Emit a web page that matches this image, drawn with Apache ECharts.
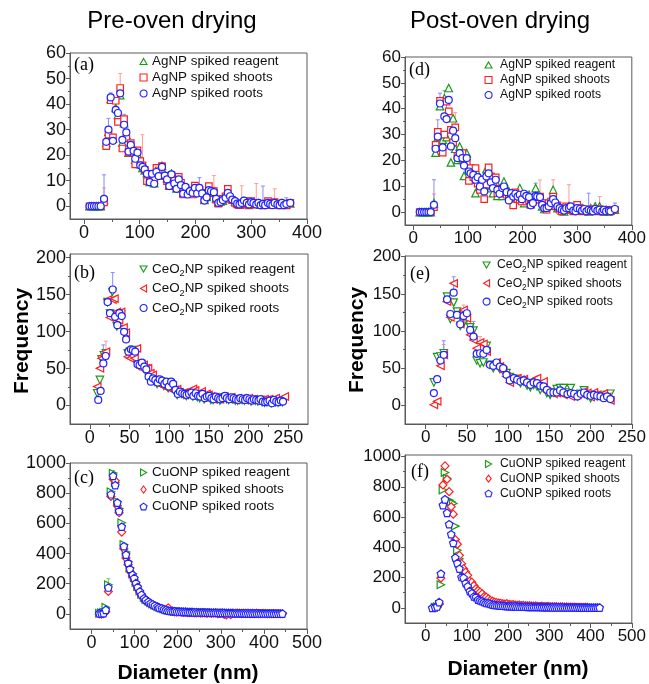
<!DOCTYPE html>
<html><head><meta charset="utf-8">
<script src="https://cdn.jsdelivr.net/npm/echarts@6/dist/echarts.min.js"></script>
<style>html,body{margin:0;padding:0;background:#fff}#c{width:649px;height:684px}</style>
</head><body><div id="c"></div>
<script>
// ---------------- DATA ----------------
// (a) AgNP pre-oven
const xA = [10,14,18,22,26,30,36,40,44,48, 52,57,61,65,69,72,76,80,84,89, 92,96,101,105,109,113,118,122,126,130, 134,140,145,149,153,157,162,166,170,174, 178,182,186,190,195,199,203,207,212,216, 220,224,228,233,237,241,245,249,254,258, 262,266,271,275,279,283,287,292,296,300, 304,309,313,317,321,325,330,334,338,342, 347,351,355,359,363,370];
const gA = [0,0,0,0,0,0,2.5,24.8,29.2,42, 26.5,38.5,35.8,43.5,25,32.5,28,21,23.5,21.5, 18.2,20.6,16.5,15,14,13,9.5,12.2,9,13.8, 12.2,15.8,12.5,11,8.2,12.8,9.3,7,10.8,8.6, 5.2,7.3,4.9,6.1,5,7,5.3,6.9,5.4,2.5, 3.7,6,6.1,5.3,3.1,1.5,1.9,2.2,3.6,5, 4.1,2.8,1.8,1.2,0.6,1.1,2,1.5,0.5,1.4, 1.1,0.9,1.1,0.6,0.7,0.6,1.1,1.1,0.6,1.1, 0.9,0.6,1.1,0.6,0.7,1.1];
const rA = [0,0,0,0,0,0,1.5,23.5,28,41.5, 27,41.3,33,46.3,22.6,34.1,26.6,21,24.7,21, 16.4,21.9,17.7,16,14.2,9.8,9.8,12.7,10.5,15, 14,15.7,11.8,9.8,7.9,12.2,10.1,7.2,11.5,9.2, 4.6,7.2,5.2,5.9,4.6,8.1,5.9,6.3,5.2,2.6, 3.9,7.9,5.9,5.9,2.6,1,2.1,2.9,3.9,6.8, 2.9,2.4,1.3,0.7,0.4,0.7,1.3,2,0.4,2, 0.7,1,0.9,0.7,0.3,0.7,2,0.4,1,1.6, 0.7,0.3,0.9,0.4,0.3,1.3];
const bA = [0,0,0,0,0,0,2.9,25.2,30,42.6, 25.6,37.7,36.5,44.2,26,31.9,28.9,21.4,24,21.7, 18.6,21,16,15.4,14.4,12.7,9.4,12.7,8.8,13.4, 11.8,15.4,12,10.5,7.9,12.5,8.9,6.8,10.5,8.3, 4.9,7.6,4.6,5.9,5.2,7.2,5,7.2,5,2.2, 3.5,6.3,5.9,5.5,2.9,1.3,1.7,2.4,3.3,5.2, 3.9,2.6,2,1,0.7,1.3,2.2,1.3,0.7,1.6, 1.3,0.7,1.3,0.4,0.9,0.4,1.3,0.9,0.4,1.3, 0.7,0.4,1.3,0.4,0.9,1.3];
const errAb = [[36,2.9,12.3],[44,30,34.4],[48,42.6,44.4],[72,31.9,36],[207,7.2,11.2],[321,0.9,7.9],[363,0.9,3.3]];
const errAr = [[36,1.5,7.2],[65,46.3,52],[105,16,28],[233,5.9,12],[283,0.7,8],[309,1,8.9],[342,1.6,6.8]];

// (d) AgNP post-oven
const xD = [12,16,20,24,28,32, 38,41,45,49,54,57,61,65,69,73, 77,81,85,90,93,98,102,105,110,114, 118,122,126,130,134,138,142,146,151,154, 158,163,166,171,175,179,183,187,191,195, 199,203,207,212,215,219,224,227,232,236, 240,244,248,252,256,260,264,268,272,276, 280,285,288,293,297,300,305,309,313,317, 321,325,329,333,337,341,346,349,353,358, 361,369];
const gD = [0,0,0,0,0,0, 3.5,23,29,41,28,44,29,48,19.2,36.3, 24.5,20.2,25.4,20.2,14,22.8,17.6,12.5,15.7,7.3, 15,11.8,12.5,9.9,16.6,13.1,9.3,7.3,11.8,6.3, 8.6,6.3,11.8,9.3,8,6.3,5,5.4,7.3,9.3, 6,3.5,5,6.7,3.2,5,9.3,6.3,6,2.2, 1.2,2.2,2.8,2.8,8.6,4.8,1.5,1.8,0.6,0.3, 0.9,2.2,1.5,0.9,0.6,1.2,0.9,1.5,0.9,0.6, 0.3,1.5,0.9,2.2,0.6,2.2,0.6,0.3,0.9,0.3, 0.6,0.9];
const rD = [0,0,0,0,0,0, 1.9,26,31,43,23,30,42.7,39,31.8,27, 32.8,21.8,21.8,22.8,20.2,19,12.1,17,13.5,17, 11,8.6,11.5,5,10.6,17.3,13.8,10.6,13.4,7.3, 9,7.1,8.6,6.7,5.4,6,2.6,7.6,5,4.8, 4.1,6,4.1,4.5,2.8,4.1,4.8,5.8,6,3.5, 2.2,0.9,3.5,4.1,6,2.2,2.6,0.9,0.3,1.5, 2.2,0.9,1.2,0.3,0.9,2.8,1.5,0.3,0.6,0.9, 0.3,1.2,0.6,0.9,0.3,1.2,0.6,0.3,0.9,0.3, 0.6,0.9];
const bD = [0,0,0,0,0,0, 2.8,24.5,29.2,42,25,37,36,43.4,25.4,31.5, 28.6,20.9,22.8,20.9,18,20.9,15.7,15,14.4,12.5, 13.5,9.9,12.5,8,13.8,15,11.5,9.3,12.5,8.6, 7.1,9.3,9.9,7.7,4.5,7.3,6,7.1,6,6.7, 5,7.1,6.3,5.8,2.6,3.5,6.3,6,5.8,2.8, 1.5,1.5,2.2,3.5,5,3.7,2.2,1.5,0.9,0.6, 1.5,1.5,2.2,0.6,0.3,1.5,1.2,0.6,1.2,0.3, 0.9,0.6,0.3,1.2,0.6,0.9,0.3,0.9,0.3,0.6, 0.3,1.2];
const errDb = [[38,2.8,12.5],[45,29.2,35.7],[49,42,46],[61,36,44],[224,6.3,11.2],[321,0.9,7.3],[369,1.2,3.5]];
const errDr = [[38,1.9,7],[77,32.8,38.5],[93,20.2,24],[232,6,12.4],[256,6,12.5],[285,0.9,10.6],[341,1.2,6]];
const errDg = [[57,44,47]];

// (b) CeO2NP pre-oven
const xB1 = [9.3,12.7,14.8,17.8,20.3,22.4,25.4,28.4,31,34, 36.8,39.4,42.4,45.3,47.9,50.8,53.8,56.3,59.3,62.3, 64.8,67.8,70.7,73.3,76.2,79.2,81.7,84.7,87.7,90.2, 93.2,96.1,98.7,101.7,104.6,107.2,110,113,115.6,118.6, 121.6,124,127,130,132.6,135.5,138.5,141,144,147, 149.5,152.5,155.4,158,161,164,166.5,169.4,172.4,175, 178,180.9,183.4,186.4,189.3,191.9,194.8,197.8,200.3,203.3, 206.3,208.8,211.8,214.7,217.3,220.2,223.2,225.7,228.7,231.7, 234.2,237.2,240.1,242.7,245.7];
const gB = [16.6,34.6,62.4,68,70.5,140,124.5,153.6,122,107, 123.5,123.5,103,94,70.5,72.8,70.5,75,56,53.5, 56,50.3,48,40,34.6,35.5,32.3,29.2,32.3,30.1, 26.5,31,23.4,30.1,26.5,18.9,14.4,17.5,15.7,14.4, 13,14.4,15.7,12.1,14.4,11.2,9.9,13,8.5,11.2, 12.1,7.6,7.6,9.9,8.5,6.7,8.5,11.2,8.5,7.6, 9.9,8.5,6.7,6.7,8.5,7.6,6.7,8.5,7.6,5.4, 7.6,6.7,5.4,7.6,4.5,4,4.5,5.4,3.1,6.7, 4.5,4,5.4,4.5,null];
const rB = [25.6,50.3,63.8,68,72.8,143,119,143.3,144.6,126.7, 115.5,126.7,105.6,98.4,66,63.8,67,63.8,77.3,57, 50.3,54.8,50.3,50.3,43.6,41.3,34.6,30.1,32.3,27.9, 25.6,26.5,23.4,25.6,22,21.1,22,17.5,14.4,17.5, 15.7,18.9,15.7,22.5,20.2,15.7,13,18.9,12.1,15.7, 14.4,12.1,8.5,11.2,9.9,8.5,11.2,12.1,9.9,8.5, 11.2,8.5,7.6,9.9,8.5,9.9,7.6,8.5,9.9,7.6, 8.5,6.7,8.5,6.7,7.6,8.5,7.6,8.5,6.7,8.5, 9.9,6.7,8.5,9.9,12.1];
const xB2 = [10.6,13.6,17,20,22.4,25.4,28.8,31.8,34.7,37.3, 40.2,43.2,45.7,48.7,51.7,54.2,57.2,60.1,62.7,65.6, 68.6,71.2,74.1,77,79.6,82.6,85.5,88,91,94, 96.6,99.5,102.5,105,108,111,113.5,116.5,119.4,122, 125,128,130.5,133.4,136.4,139,142,145,147.4,150.4, 153.3,156,158.8,161.8,164.3,167.3,170.3,172.8,175.8,178.7, 181.3,184.2,187.2,189.7,192.7,195.7,198.2,201.2,204,206.7, 209.7,212.6,215.2,218,221,223.6,226.6,229.6,232,235, 238,240.6,243.5];
const bB = [7.6,19.8,57,67,140,125,157,120,108.7,125, 121,99.7,89.4,72.8,76,75,72.8,56,54.8,58, 52.6,49,39,32.3,36.8,34.6,31,35.5,33.7,29.2, 32.3,25.6,32.3,29.2,21.1,15.7,18.9,16.6,15.7,14.4, 15.7,17.5,13,16.6,13,12.1,15.7,9.9,12.1,13, 9.9,8.5,12.1,9.9,8.5,9.9,13,9.9,8.5,11.2, 9.9,8.5,7.6,9.9,8.5,7.6,9.9,8.5,6.7,8.5, 7.6,6.7,8.5,5.4,4.5,5.4,6.7,3.1,7.6,5.4, 4.5,6.7,5.4];
const errBb = [[17,57,82],[28.8,157,180]];
const errBr = [[20.3,72.8,87]];

// (e) CeO2NP post-oven
const xE = [10,14,18,22,26,30,34,38,42,46, 50,54,58,62,66,70,74,78,82,86, 90,94,98,102,107,111,115,119,123,127, 131,135,139,143,147,151,155,159,163,167, 172,176,180,184,188,192,196,200,204,208, 212,216,220,224];
const gE = [30.9,64.9,65.8,70.2,146.3,116.3,138.3,126.2,107,110.5, 117.2,105,100.7,60.4,56.8,57.7,80,54.6,50.1,54.6, 48.8,47,43.4,38,35.3,35.3,30,32.2,26.8,24.6, 27.7,25.5,21,23.3,16.6,14.3,17.4,21.9,23.3,23.3, 17.4,23.3,14.3,12.1,15.7,20.1,13,9.8,14.3,12.1, 13,12.1,14.3,15.7];
const rE = [0.9,5.4,53.2,68,139.6,118.6,164.2,121.7,109.6,128.4, 117.2,94.9,88.1,77,84.6,82.8,72.5,53.2,55.9,57.7, 52.3,45.6,38.9,30.9,35.3,36.7,34.5,35.3,29,30.9, 34.5,36.7,29,32.2,18.8,17.4,15.7,16.6,17.4,14.3, 15.7,12.1,13,14.3,15.7,18.8,16.6,11.2,17.4,14.3, 13,15.7,11.2,6.7];
const bE = [16.6,35.3,60.4,68,142.7,123,151.7,121.7,109.2,120.4, 124,101.6,92.6,69.4,70.2,69.4,74.7,54.6,53.2,57.7, 52.3,50.1,41.2,33.6,36.7,34.5,32.2,33.6,30.9,27.7, 30.9,30,26.4,25.5,21,17.4,17.4,17.4,20.1,17.4, 15.2,16.6,15.7,12.1,15.7,17.4,14.3,13,14.3,13, 12.1,9.8,12.1,8.5];
const errEb = [[22,68,87],[34,151.7,173],[58,92.6,113]];
const errEr = [[22,68,82],[46,128.4,135],[66,84.6,92.6],[86,57.7,62]];

// (c) CuONP pre-oven
const xC = [18,23,28,33,39,45,50,55,60,64, 70,75,80,85,89,95,99,103,107,112, 116,122,126,132,137,142,147,153,157,163, 168,173,178,183,188,193,198,203,208,213, 218,223,228,233,238,243,248,253,258,263, 268,273,278,283,288,293,298,303,308,313, 318,323,328,333,338,343,348,353,358,363, 368,373,378,383,388,393,398,403,408,413, 418,423,428,433,438,443];
const gC = [4,8,12,44,193,809,933,871,745,698, 604,460,410,349,305,265,240,208,182,152, 130,108,95,85,73,65,57,50,44,38, 32,28,24,22,20,18,17,16,15,15, 14,13,13,12,11,11,10,10,9,9, 9,8,8,8,7,7,7,6,6,6, 6,5,5,5,5,5,4,4,4,4, 4,4,3,3,3,3,3,3,3,3, 2,2,2,2,2,2];
const rC = [0,-2,2,15,149,778,893,882,716,671, 542,431,371,327,282,250,225,195,165,140, 118,98,88,77,66,58,52,44,40,34, 30,26,40,18,16,14,12,14,11,10, 12,9,8,10,7,6,8,5,7,6, 4,6,3,5,7,2,4,6,-4,-6, 3,-5,4,2,5,3,1,4,2,3, 2,4,1,3,2,1,3,2,1,2, 1,2,1,2,1,1];
const bC = [4,3,5,27,175,793,915,853,738,682, 578,449,393,338,298,260,238,204,178,149, 127,104,93,82,71,64,56,49,42,38, 31,27,22,20,19,18,16,16,15,14, 14,13,12,12,11,11,10,10,10,9, 9,9,8,8,8,7,7,7,7,6, 6,6,6,5,5,5,5,5,4,4, 4,4,4,4,3,3,3,3,3,3, 3,2,2,2,2,2];
const errCg = [[39,193,233],[50,933,950]];

// (f) CuONP post-oven
const xF = [16,23,28,33,37,42,47,52,57,62, 67,72,77,82,87,92,97,102,107,112, 117,122,127,132,137,142,147,152,157,162, 167,172,177,182,187,192,197,202,207,212, 217,222,227,232,237,242,247,252,257,262, 267,272,277,282,287,292,297,302,307,312, 317,322,327,332,337,342,347,352,357,362, 367,372,377,382,387,392,397,402,407,412, 417,422];
const gF = [null,4,8,22,153,779,894,856,712,701, 690,540,381,325,292,226,215,181,159,148, 137,115,100,90,80,70,62,55,48,42, 38,36,33,30,28,26,24,23,21,20, 19,17,16,15,14,14,13,12,11,11, 10,10,9,9,8,8,7,7,7,6, 6,6,5,5,5,5,4,4,4,4, 4,3,3,null,null,null,null,null,null,null, null,null];
const rF = [null,0,4,27,197,812,938,850,768,668, 619,451,420,347,292,259,237,215,177,170, 148,126,115,104,93,75,71,60,49,44, 38,35,32,30,27,25,28,22,20,22, 18,17,19,15,16,14,13,15,12,11, 13,10,9,11,8,9,10,7,8,6, 8,5,7,6,5,6,4,5,4,5, 3,4,3,3,4,3,null,null,null,null, null,null];
const bF = [0,4,9,38,226,679,717,628,553,487, 429,332,296,259,204,199,164,142,111,97, 75,71,55,49,44,38,33,31,27,22, 20,18,17,15,14,13,12,11,11,10, 10,9,9,8,8,8,7,7,7,6, 6,6,6,5,5,5,5,5,4,4, 4,4,4,4,3,3,3,3,3,3, 3,3,2,2,2,2,2,2,2,2, 2,2];

// tick values
const ticksX_Ag = [0,100,200,300,400], minorX_Ag = [50,150,250,350];
const ticksY_Ag = [0,10,20,30,40,50,60], minorY_Ag = [5,15,25,35,45,55];
const ticksX_Ce = [0,50,100,150,200,250], minorX_Ce = [25,75,125,175,225];
const ticksY_Ce = [0,50,100,150,200], minorY_Ce = [25,75,125,175];
const ticksX_Cu = [0,100,200,300,400,500], minorX_Cu = [50,150,250,350,450];
const ticksY_Cu = [0,200,400,600,800,1000], minorY_Cu = [100,300,500,700,900];

const nAg = ['AgNP spiked reagent','AgNP spiked shoots','AgNP spiked roots'];
const nCe = ['CeO2NP spiked reagent','CeO2NP spiked shoots','CeO2NP spiked roots'];
const nCu = ['CuONP spiked reagent','CuONP spiked shoots','CuONP spiked roots'];

// ---------------- STYLE / LAYOUT ----------------
const GREEN='#1c981c', RED='#ff1f1f', BLUE='#2222ff';
const EG='#72c072', ER='#ff9c9c', EB='#8a8aff';
const AX='#5a5a5a', TXT='#111';
const FF='"Liberation Sans", Arial, sans-serif';
const TRI_UP='path://M0,-1L0.866,0.5L-0.866,0.5Z';
const TRI_DOWN='path://M0,1L0.866,-0.5L-0.866,-0.5Z';
const TRI_LEFT='path://M-1,0L0.5,-0.866L0.5,0.866Z';
const TRI_RIGHT='path://M1,0L-0.5,-0.866L-0.5,0.866Z';
const PENT='path://M0,-1L0.951,-0.309L0.588,0.809L-0.588,0.809L-0.951,-0.309Z';
const SQ='path://M0,0L1,0L1,1L0,1Z';
const CIRC='circle', DIAM='path://M0,-1L0.75,0L0,1L-0.75,0Z';

const panels = [
 {grid:{left:70,top:53,width:237,height:166}, x:[-25,400], y:[-5,60], tx:ticksX_Ag, mx:minorX_Ag, ty:ticksY_Ag, my:minorY_Ag, fs:18},
 {grid:{left:70,top:254,width:238,height:170}, x:[-25,275], y:[-25,205], tx:ticksX_Ce, mx:minorX_Ce, ty:ticksY_Ce, my:minorY_Ce, fs:18},
 {grid:{left:70,top:463,width:237,height:166}, x:[-50,500], y:[-100,1000], tx:ticksX_Cu, mx:minorX_Cu, ty:ticksY_Cu, my:minorY_Cu, fs:18},
 {grid:{left:405,top:57,width:227,height:168}, x:[-15,400], y:[-5,60], tx:ticksX_Ag, mx:minorX_Ag, ty:ticksY_Ag, my:minorY_Ag, fs:17},
 {grid:{left:405,top:256,width:227,height:168}, x:[-25,250], y:[-25,201], tx:ticksX_Ce, mx:minorX_Ce, ty:ticksY_Ce, my:minorY_Ce, fs:17},
 {grid:{left:405,top:455,width:227,height:168}, x:[-50,500], y:[-100,1010], tx:ticksX_Cu, mx:minorX_Cu, ty:ticksY_Cu, my:minorY_Cu, fs:17}
];

const plain = v => String(v);
const grids=[], xAxes=[], yAxes=[];
panels.forEach((p,i)=>{
  grids.push(Object.assign({show:true,borderColor:AX,borderWidth:1,backgroundColor:'transparent'},p.grid));
  xAxes.push({type:'value',gridIndex:i,min:p.x[0],max:p.x[1],position:'bottom',
    axisLine:{onZero:false,lineStyle:{color:AX,width:1}},
    axisTick:{show:true,customValues:p.tx,length:5,lineStyle:{color:AX}},
    axisLabel:{customValues:p.tx,formatter:plain,fontSize:p.fs,color:TXT,fontFamily:FF,margin:5},
    splitLine:{show:false}});
  xAxes.push({type:'value',gridIndex:i,min:p.x[0],max:p.x[1],position:'bottom',
    axisLine:{show:false,onZero:false},axisTick:{show:true,customValues:p.mx,length:3,lineStyle:{color:AX}},
    axisLabel:{show:false},splitLine:{show:false}});
  yAxes.push({type:'value',gridIndex:i,min:p.y[0],max:p.y[1],position:'left',
    axisLine:{onZero:false,lineStyle:{color:AX,width:1}},
    axisTick:{show:true,customValues:p.ty,length:4,lineStyle:{color:AX}},
    axisLabel:{customValues:p.ty,formatter:plain,fontSize:p.fs,color:TXT,fontFamily:FF,margin:4},
    splitLine:{show:false}});
  yAxes.push({type:'value',gridIndex:i,min:p.y[0],max:p.y[1],position:'left',
    axisLine:{show:false,onZero:false},axisTick:{show:true,customValues:p.my,length:2,lineStyle:{color:AX}},
    axisLabel:{show:false},splitLine:{show:false}});
});

function sc(name, xs, ys, symbol, color, gi, size){
  const data=[]; for(let i=0;i<xs.length;i++){ if(ys[i]!=null) data.push([xs[i],ys[i]]); }
  return {type:'scatter',name,xAxisIndex:2*gi,yAxisIndex:2*gi,data,symbol,symbolSize:size||7,
    itemStyle:{color:'#fff',borderColor:color,borderWidth:1.2,opacity:1},emphasis:{disabled:true},z:3,animation:false};
}
function eb(data,color,gi){
  return {type:'custom',xAxisIndex:2*gi,yAxisIndex:2*gi,data,silent:true,z:1,encode:{x:0,y:[1,2]},
    renderItem:function(params,api){
      const x=api.value(0), lo=api.value(1), hi=api.value(2);
      const p1=api.coord([x,lo]), p2=api.coord([x,hi]);
      return {type:'group',children:[
        {type:'line',shape:{x1:p1[0],y1:p1[1],x2:p2[0],y2:p2[1]},style:{stroke:color,lineWidth:1}},
        {type:'line',shape:{x1:p2[0]-2,y1:p2[1],x2:p2[0]+2,y2:p2[1]},style:{stroke:color,lineWidth:1}}]};
    }};
}

const series=[
  eb(errAr,ER,0), eb(errAb,EB,0),
  eb(errBr,ER,1), eb(errBb,EB,1),
  eb(errCg,EG,2),
  eb(errDg,EG,3), eb(errDr,ER,3), eb(errDb,EB,3),
  eb(errEr,ER,4), eb(errEb,EB,4),
  // (a)
  sc(nAg[0],xA,gA,TRI_UP,GREEN,0,7.5), sc(nAg[1],xA,rA,SQ,RED,0,6.5), sc(nAg[2],xA,bA,CIRC,BLUE,0,7),
  // (b)
  sc(nCe[0],xB1,gB,TRI_DOWN,GREEN,1,7.5), sc(nCe[1],xB1,rB,TRI_LEFT,RED,1,7.5), sc(nCe[2],xB2,bB,CIRC,BLUE,1,7),
  // (c)
  sc(nCu[0],xC,gC,TRI_RIGHT,GREEN,2,7.5), sc(nCu[1],xC,rC,DIAM,RED,2,8), sc(nCu[2],xC,bC,PENT,BLUE,2,7.5),
  // (d)
  sc(nAg[0],xD,gD,TRI_UP,GREEN,3,7.5), sc(nAg[1],xD,rD,SQ,RED,3,6.5), sc(nAg[2],xD,bD,CIRC,BLUE,3,7),
  // (e)
  sc(nCe[0],xE,gE,TRI_DOWN,GREEN,4,7.5), sc(nCe[1],xE,rE,TRI_LEFT,RED,4,7.5), sc(nCe[2],xE,bE,CIRC,BLUE,4,7),
  // (f)
  sc(nCu[0],xF,gF,TRI_RIGHT,GREEN,5,7.5), sc(nCu[1],xF,rF,DIAM,RED,5,8), sc(nCu[2],xF,bF,PENT,BLUE,5,7.5)
];

const ceFmt = n => n.replace('CeO2NP','CeO{s|2}NP');
function lg(names,icons,colors,left,top,fs,lh,gap,rich,padL){
  const data = names.map((n,k)=>({name:n,icon:icons[k],itemStyle:{color:'#fff',borderColor:colors[k],borderWidth:1.1}}));
  const o={data,left,top,orient:'vertical',itemWidth:7,itemHeight:7,itemGap:gap,padding:0,
    selectedMode:false,textStyle:{fontSize:fs,fontFamily:FF,color:TXT,lineHeight:lh,padding:[0,0,0,padL||0]}};
  if(rich){ o.formatter=ceFmt; o.textStyle.rich={s:{fontSize:fs*0.68,fontFamily:FF,color:TXT,verticalAlign:'bottom',lineHeight:fs*0.7}}; }
  return o;
}
const COLS=[GREEN,RED,BLUE];
const legends=[
  lg(nAg,[TRI_UP,SQ,CIRC],COLS,139.5,54,13.4,15,1,false,0),
  lg(nCe,[TRI_DOWN,TRI_LEFT,CIRC],COLS,139.5,260,13.4,18,1.5,true,0),
  lg(nCu,[TRI_RIGHT,DIAM,PENT],COLS,139.5,465,13.4,15,2,false,0),
  lg(nAg,[TRI_UP,SQ,CIRC],COLS,484.5,58,12.2,14,1,false,3),
  lg(nCe,[TRI_DOWN,TRI_LEFT,CIRC],COLS,482.5,256.5,12.2,17,1.3,true,2),
  lg(nCu,[TRI_RIGHT,DIAM,PENT],COLS,484.5,457,12.2,14,0.7,false,3)
];

function txt(x,y,t,font,align,rot){
  return {type:'text',x,y,rotation:rot||0,silent:true,style:{text:t,font,align:align||'center',verticalAlign:'middle',fill:'#000'}};
}
const SERIF='18px "Liberation Serif", "Times New Roman", serif';
const graphics=[
  txt(172,21,'Pre-oven drying','24px '+FF),
  txt(500,21,'Post-oven drying','24px '+FF),
  txt(22,341,'Frequency','bold 21px '+FF,'center',Math.PI/2),
  txt(357,340,'Frequency','bold 21px '+FF,'center',Math.PI/2),
  txt(188,673,'Diameter (nm)','bold 21px '+FF),
  txt(518,669,'Diameter (nm)','bold 21px '+FF),
  txt(74,65,'(a)',SERIF,'left'),
  txt(74,273,'(b)',SERIF,'left'),
  txt(74,478,'(c)',SERIF,'left'),
  txt(409,70,'(d)',SERIF,'left'),
  txt(410,274,'(e)',SERIF,'left'),
  txt(411,472,'(f)',SERIF,'left')
];

const chart=echarts.init(document.getElementById('c'),null,{renderer:'canvas'});
chart.setOption({animation:false,backgroundColor:'#fff',grid:grids,xAxis:xAxes,yAxis:yAxes,legend:legends,series,graphic:graphics});
</script></body></html>
